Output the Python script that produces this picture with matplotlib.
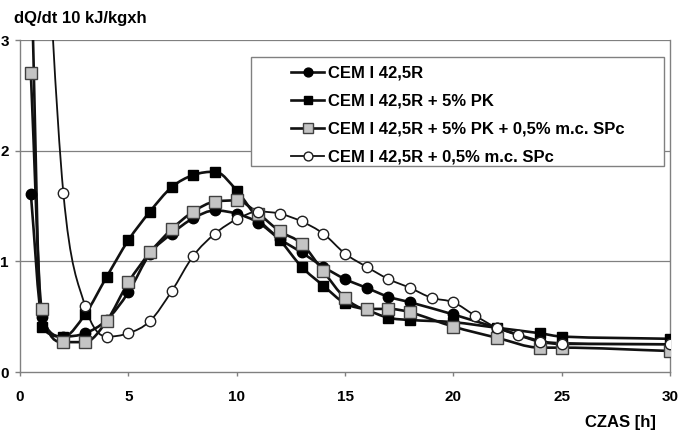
import numpy as np
import matplotlib
matplotlib.use("Agg")
import matplotlib.pyplot as plt
from matplotlib.path import Path
from matplotlib.patches import PathPatch, Rectangle
from matplotlib.lines import Line2D

plt.rcParams['font.family'] = ['Liberation Sans', 'DejaVu Sans']
plt.rcParams['font.weight'] = 'bold'

# data
czas_abc = [0.5, 1, 2, 3, 4, 5, 6, 7, 8, 9, 10, 11, 12, 13, 14, 15, 16, 17, 18, 20, 22, 24, 25, 30]
cem = [1.61, 0.50, 0.32, 0.35, 0.47, 0.72, 1.07, 1.25, 1.39, 1.46, 1.43, 1.35, 1.20, 1.08,
       0.95, 0.84, 0.76, 0.68, 0.63, 0.52, 0.40, 0.28, 0.26, 0.25]
cem_pk = [3.8, 0.41, 0.32, 0.52, 0.86, 1.19, 1.45, 1.67, 1.78, 1.81, 1.64, 1.38, 1.19, 0.95,
          0.78, 0.62, 0.56, 0.49, 0.47, 0.45, 0.40, 0.35, 0.32, 0.30]
cem_pk_spc = [2.70, 0.57, 0.27, 0.27, 0.46, 0.81, 1.08, 1.29, 1.45, 1.54, 1.55, 1.43, 1.27, 1.16,
              0.91, 0.67, 0.57, 0.57, 0.54, 0.41, 0.31, 0.22, 0.22, 0.19]
czas_d = [1, 2, 3, 4, 5, 6, 7, 8, 9, 10, 11, 12, 13, 14, 15, 16, 17, 18, 19, 20, 21, 22, 23, 24, 25, 30]
cem_spc = [4.8, 1.62, 0.60, 0.32, 0.35, 0.46, 0.73, 1.05, 1.25, 1.38, 1.45, 1.43, 1.36, 1.25,
           1.07, 0.95, 0.84, 0.76, 0.67, 0.63, 0.51, 0.40, 0.33, 0.27, 0.25, 0.25]

labels = ["CEM I 42,5R", "CEM I 42,5R + 5% PK",
          "CEM I 42,5R + 5% PK + 0,5% m.c. SPc", "CEM I 42,5R + 0,5% m.c. SPc"]


def smooth_path(x, y):
    # smoothed line through the points, tangents limited so it does not overshoot much
    x = np.asarray(x, float)
    y = np.asarray(y, float)
    n = len(x)
    h = np.diff(x)
    d = np.diff(y) / h
    m = np.zeros(n)
    m[0] = d[0]
    m[-1] = d[-1]
    for i in range(1, n - 1):
        if d[i - 1] * d[i] <= 0:
            m[i] = 0.0
        else:
            m[i] = (y[i + 1] - y[i - 1]) / (x[i + 1] - x[i - 1])
    for i in range(n - 1):
        if d[i] == 0:
            m[i] = m[i + 1] = 0.0
            continue
        a = m[i] / d[i]
        b = m[i + 1] / d[i]
        s = a * a + b * b
        if s > 9:
            t = 3 / np.sqrt(s)
            m[i] = t * a * d[i]
            m[i + 1] = t * b * d[i]
    verts = [(x[0], y[0])]
    codes = [Path.MOVETO]
    for i in range(n - 1):
        verts += [(x[i] + h[i] / 3, y[i] + m[i] * h[i] / 3),
                  (x[i + 1] - h[i] / 3, y[i + 1] - m[i + 1] * h[i] / 3),
                  (x[i + 1], y[i + 1])]
        codes += [Path.CURVE4] * 3
    return Path(verts, codes)


fig = plt.figure(figsize=(6.79, 4.30), dpi=100)
ax = fig.add_axes([20 / 679, 58 / 430, 650 / 679, 332 / 430])

styles = [
    dict(marker='o', mfc='black', mec='black', ms=7.5, lw=1.9),
    dict(marker='s', mfc='black', mec='black', ms=7.5, lw=1.9),
    dict(marker='s', mfc='#c4c4c4', mec='#404040', ms=8, lw=1.9),
    dict(marker='o', mfc='white', mec='#202020', ms=7.5, lw=1.3),
]
series = [(czas_abc, cem), (czas_abc, cem_pk), (czas_abc, cem_pk_spc), (czas_d, cem_spc)]

handles = []
for (xs, ys), st, lab in zip(series, styles, labels):
    patch = PathPatch(smooth_path(xs, ys), fill=False, edgecolor='#111111', lw=st['lw'], zorder=3)
    ax.add_patch(patch)
    ax.plot(xs, ys, linestyle='none', marker=st['marker'], markerfacecolor=st['mfc'],
            markeredgecolor=st['mec'], markersize=st['ms'], markeredgewidth=1.0, zorder=4)
    handles.append(Line2D([0], [0], color='#111111', lw=st['lw'], marker=st['marker'],
                          markerfacecolor=st['mfc'], markeredgecolor=st['mec'],
                          markersize=st['ms'] * 0.85, markeredgewidth=1.0))

ax.set_xlim(0, 30)
ax.set_ylim(0, 3)
ax.set_xticks(range(0, 31, 5))
ax.set_yticks([0, 1, 2, 3])
for v in [1, 2, 3]:
    ax.axhline(v, color='#808080', lw=0.9, zorder=1)
for s in ['left', 'bottom', 'right']:
    ax.spines[s].set_color('#808080')
    ax.spines[s].set_linewidth(1.0)
ax.spines['top'].set_visible(False)
ax.tick_params(axis='both', colors='#808080', width=1.0, labelcolor='black', labelsize=11)
ax.tick_params(axis='y', length=3.6, pad=4.5)
ax.tick_params(axis='x', length=3, pad=10)
for t in ax.get_xticklabels() + ax.get_yticklabels():
    t.set_fontweight('bold')

# legend box
box = Rectangle((251 / 679, 1 - 166 / 430), 413 / 679, 109 / 430, transform=fig.transFigure,
                facecolor='white', edgecolor='#808080', lw=1.0, zorder=5)
ax.add_patch(box)
box.set_clip_on(False)
leg = fig.legend(handles, labels, loc='upper left', bbox_to_anchor=(291 / 679, 1 - 66 / 430),
                 bbox_transform=fig.transFigure, frameon=False, borderpad=0,
                 borderaxespad=0, handlelength=2.0, handletextpad=0.2, labelspacing=0.78,
                 prop={'weight': 'bold', 'size': 12})
leg.set_zorder(6)

fig.text(14 / 679, 1 - 18 / 430, "dQ/dt 10 kJ/kgxh", fontsize=12, fontweight='bold', va='center', ha='left')
fig.text(585 / 679, 1 - 423 / 430, "CZAS [h]", fontsize=12, fontweight='bold', va='center', ha='left')

fig.savefig("out.png", dpi=100)
